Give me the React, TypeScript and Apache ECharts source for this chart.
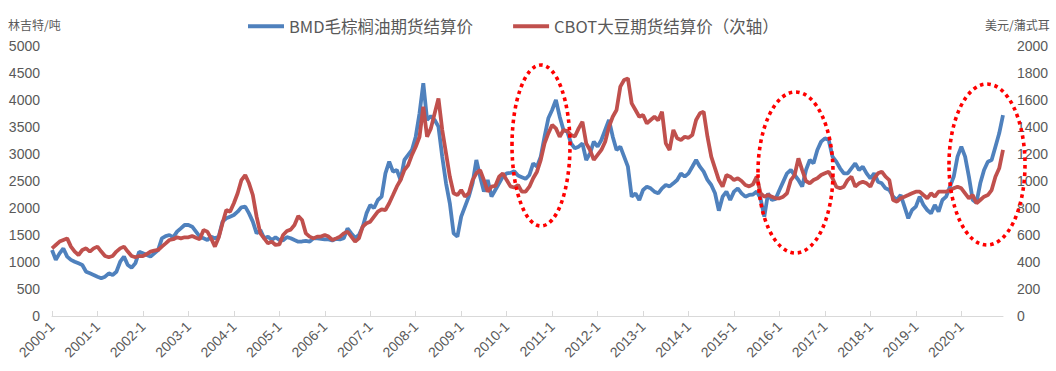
import React, { useEffect, useRef } from "react";
import * as echarts from "echarts";

// ---- data (monthly settlement prices, 2000-1 .. 2020-12) ----
const years = [2000, 2001, 2002, 2003, 2004, 2005, 2006, 2007, 2008, 2009, 2010, 2011, 2012, 2013, 2014, 2015, 2016, 2017, 2018, 2019, 2020];
const months = [1, 2, 3, 4, 5, 6, 7, 8, 9, 10, 11, 12];
const categories: string[] = years.flatMap((y) => months.map((m) => `${y}-${m}`));

// BMD palm oil settlement price (MYR / tonne), left axis
const bmdPrices = [
  1222, 1040, 1160, 1250, 1100, 1040, 1005, 975, 944, 820, 790, 760,
  728, 700, 728, 790, 760, 820, 1005, 1100, 944, 895, 975, 1190,
  1160, 1130, 1100, 1160, 1220, 1438, 1480, 1500, 1457, 1562, 1623, 1685,
  1685, 1654, 1562, 1469, 1438, 1407, 1469, 1438, 1469, 1747, 1809, 1840,
  1870, 1932, 2012, 2025, 1901, 1747, 1531, 1592, 1438, 1469, 1407, 1457,
  1407, 1400, 1460, 1440, 1407, 1377, 1380, 1390, 1377, 1438, 1438, 1430,
  1420, 1420, 1400, 1430, 1420, 1440, 1620, 1530, 1450, 1500, 1650, 1900,
  2056, 2000, 2148, 2210, 2642, 2858, 2673, 2705, 2519, 2889, 2982, 3074,
  3321, 3753, 4309, 3630, 3700, 3630, 3506, 2951, 2457, 2086, 1531, 1470,
  1840, 2025, 2210, 2457, 2889, 2580, 2303, 2519, 2210, 2334, 2457, 2580,
  2642, 2650, 2680, 2600, 2570, 2540, 2611, 2827, 2765, 2950, 3321, 3661,
  3815, 4000, 3691, 3445, 3414, 3198, 3105, 3136, 3198, 2889, 3012, 3229,
  3136, 3259, 3445, 3630, 3321, 3074, 3136, 2950, 2765, 2210, 2272, 2148,
  2334, 2395, 2364, 2303, 2272, 2364, 2426, 2400, 2457, 2519, 2642, 2580,
  2642, 2765, 2889, 2765, 2673, 2519, 2426, 2272, 1950, 2210, 2303, 2148,
  2303, 2364, 2272, 2210, 2241, 2250, 2303, 2179, 1840, 2272, 2148, 2170,
  2334, 2488, 2642, 2704, 2611, 2519, 2395, 2704, 2889, 2827, 3074, 3229,
  3290, 3260, 2951, 2858, 2735, 2642, 2642, 2735, 2827, 2704, 2765, 2642,
  2550, 2642, 2488, 2457, 2364, 2334, 2210, 2148, 2241, 2025, 1809, 1963,
  2025, 2210, 2056, 1963, 1901, 2056, 1932, 2148, 2210, 2395, 2580, 2951,
  3136, 2951, 2580, 2150, 2100, 2457, 2704, 2858, 2889, 3136, 3383, 3720,
];

// CBOT soybean settlement price, right (secondary) axis
const cbotPrices = [
  501, 526, 551, 563, 575, 514, 477, 452, 489, 501, 477, 501,
  514, 477, 444, 435, 444, 477, 501, 514, 477, 444, 435, 444,
  444, 459, 477, 484, 489, 514, 538, 563, 569, 583, 575, 583,
  583, 593, 580, 569, 637, 625, 575, 514, 581, 687, 785, 773,
  835, 909, 1007, 1044, 983, 896, 736, 612, 575, 538, 551, 526,
  530, 600, 630, 640, 674, 740, 711, 612, 588, 575, 588, 588,
  600, 588, 563, 575, 588, 612, 625, 588, 551, 575, 662, 687,
  699, 736, 773, 790, 785, 835, 896, 958, 1007, 1081, 1118, 1193,
  1254, 1328, 1550, 1328, 1390, 1501, 1612, 1378, 1205, 1032, 909, 896,
  933, 884, 909, 1007, 1057, 1081, 1007, 921, 958, 963, 1032, 1057,
  1007, 960, 952, 970, 921, 921, 958, 1020, 1069, 1156, 1279, 1353,
  1415, 1390, 1328, 1378, 1370, 1341, 1330, 1390, 1439, 1279, 1230, 1156,
  1193, 1230, 1291, 1402, 1476, 1526, 1699, 1748, 1760, 1575, 1526, 1476,
  1489, 1427, 1452, 1476, 1450, 1513, 1279, 1230, 1378, 1316, 1304, 1328,
  1320, 1341, 1452, 1501, 1513, 1328, 1180, 1094, 1007, 958, 1044, 1032,
  1007, 1020, 1000, 970, 960, 975, 1032, 909, 884, 896, 884, 872,
  872, 884, 909, 1007, 1044, 1168, 1081, 1000, 983, 1007, 1020, 1044,
  1057, 1069, 1020, 958, 946, 958, 1007, 1032, 958, 983, 995, 983,
  958, 1020, 1057, 1069, 1032, 1007, 859, 847, 872, 884, 896, 909,
  921, 921, 896, 872, 909, 884, 921, 921, 921, 933, 946, 958,
  946, 909, 872, 896, 835, 859, 884, 896, 933, 1032, 1094, 1230,
];

const seriesNames = ["BMD毛棕榈油期货结算价", "CBOT大豆期货结算价（次轴）"];
const leftUnit = "林吉特/吨";
const rightUnit = "美元/蒲式耳";

const FONT = "'Liberation Sans', Arial, 'Noto Sans CJK SC', sans-serif";
const CJK = "'Noto Sans CJK SC', sans-serif";

export default function App() {
  const ref = useRef<HTMLDivElement>(null);
  useEffect(() => {
    if (!ref.current) return;
    const chart = echarts.init(ref.current, undefined, { renderer: "svg" });
    const isYearStart = (i: number) => i % 12 === 0;
    const plain = (v: number) => String(v);
    const dotted = {
      fill: "none",
      stroke: "#ff0000",
      lineWidth: 3.6,
      lineDash: [3.6, 3.8],
    };
    chart.setOption({
      animation: false,
      backgroundColor: "#ffffff",
      grid: { left: 52, right: 53, top: 46, bottom: 55, containLabel: false },
      legend: {
        left: 243,
        top: 13,
        itemWidth: 36,
        itemHeight: 4,
        itemGap: 40,
        icon: "rect",
        data: seriesNames,
        textStyle: {
          fontSize: 16.5,
          color: "#595959",
          fontFamily: "'Liberation Sans Narrow', 'Noto Sans CJK SC', sans-serif",
        },
      },
      xAxis: {
        type: "category",
        data: categories,
        boundaryGap: false,
        axisLine: { lineStyle: { color: "#d9d9d9", width: 1 } },
        axisTick: {
          show: true,
          inside: true,
          length: 5,
          interval: isYearStart,
          lineStyle: { color: "#d9d9d9" },
        },
        axisLabel: {
          interval: isYearStart,
          rotate: 45,
          fontSize: 14,
          color: "#595959",
          fontFamily: FONT,
          margin: 8,
        },
        splitLine: { show: false },
      },
      yAxis: [
        {
          type: "value",
          min: 0,
          max: 5000,
          interval: 500,
          axisLine: { show: false },
          axisTick: { show: false },
          splitLine: { show: false },
          axisLabel: { fontSize: 14, color: "#595959", fontFamily: FONT, margin: 12, formatter: plain },
        },
        {
          type: "value",
          position: "right",
          min: 0,
          max: 2000,
          interval: 200,
          axisLine: { show: false },
          axisTick: { show: false },
          splitLine: { show: false },
          axisLabel: { fontSize: 14, color: "#595959", fontFamily: FONT, margin: 14, formatter: plain },
        },
      ],
      series: [
        {
          name: seriesNames[0],
          type: "line",
          data: bmdPrices,
          yAxisIndex: 0,
          showSymbol: false,
          symbol: "none",
          color: "#4f81bd",
          lineStyle: { width: 3.8, color: "#4f81bd" },
        },
        {
          name: seriesNames[1],
          type: "line",
          data: cbotPrices,
          yAxisIndex: 1,
          showSymbol: false,
          symbol: "none",
          color: "#c0504d",
          lineStyle: { width: 3.8, color: "#c0504d" },
        },
      ],
      graphic: [
        {
          type: "text",
          left: 8,
          top: 18,
          style: { text: leftUnit, fontSize: 12, fill: "#595959", fontFamily: CJK },
        },
        {
          type: "text",
          left: 985,
          top: 18,
          style: { text: rightUnit, fontSize: 12, fill: "#595959", fontFamily: CJK },
        },
        { type: "ellipse", shape: { cx: 541, cy: 145.5, rx: 29, ry: 80.5 }, style: dotted, z: 100 },
        { type: "ellipse", shape: { cx: 795.5, cy: 172.5, rx: 37.5, ry: 80.5 }, style: dotted, z: 100 },
        { type: "ellipse", shape: { cx: 987, cy: 164.5, rx: 38, ry: 80.5 }, style: dotted, z: 100 },
      ],
    });
    return () => chart.dispose();
  }, []);
  return (
    <div
      ref={ref}
      style={{ position: "absolute", left: 0, top: 0, width: 1056, height: 371, background: "#fff" }}
    />
  );
}
